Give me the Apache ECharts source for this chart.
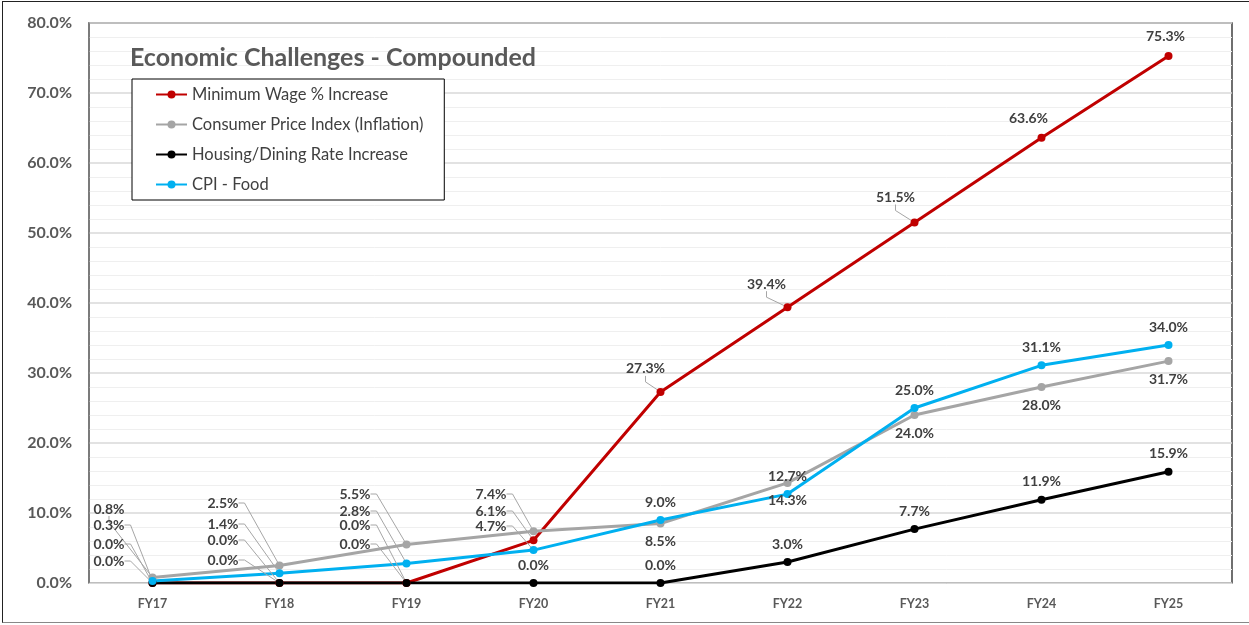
<!DOCTYPE html>
<html>
<head>
<meta charset="utf-8">
<title>Economic Challenges - Compounded</title>
<script src="https://cdn.jsdelivr.net/npm/echarts@6/dist/echarts.min.js"></script>
<style>
    html, body { margin: 0; padding: 0; background: #fff; }
    #main { position: absolute; left: 0; top: 0; width: 1249px; height: 625px; }
    .frame { position: absolute; left: 2px; top: 1px; width: 1262px; height: 620px;
             border: 1px solid #222; border-bottom-color: #888; pointer-events: none; }
</style>
</head>
<body>
<div id="main"></div>
<div class="frame"></div>
<script>
// 数据
var categories = ['FY17', 'FY18', 'FY19', 'FY20', 'FY21', 'FY22', 'FY23', 'FY24', 'FY25'];
var minWage = [0.0, 0.0, 0.0, 6.1, 27.3, 39.4, 51.5, 63.6, 75.3];
var cpi = [0.8, 2.5, 5.5, 7.4, 8.5, 14.3, 24.0, 28.0, 31.7];
var housing = [0.0, 0.0, 0.0, 0.0, 0.0, 3.0, 7.7, 11.9, 15.9];
var cpiFood = [0.3, 1.4, 2.8, 4.7, 9.0, 12.7, 25.0, 31.1, 34.0];
var yTicks = [0, 10, 20, 30, 40, 50, 60, 70, 80];

var FONT = 'Lato, "Open Sans", sans-serif';

// 左下角标签堆叠 (series: 0 wage, 1 cpi, 2 housing, 3 food)
var clusters = {
    0: { dx: -28, dy: [-39, -74, -22, -58] },
    1: { dx: -41, dy: [-43, -80, -23, -59] },
    2: { dx: -36, dy: [-58, -89, -39, -72] },
    3: { dx: -27, dy: [-72, -89, null, -57] }
};
// 最低工资标签偏移 (相对于点)
var wageShift = { 4: [-15, -23], 5: [-21, -23], 6: [-19, -25], 7: [-13, -19], 8: [-3, -19] };
var wageLeader = { 4: 1, 5: 1, 6: 1 };

var chart = echarts.init(document.getElementById('main'));

function labelPos(p) {
    var cx = p.rect.x + p.rect.width / 2;
    var cy = p.rect.y + p.rect.height / 2;
    var c = clusters[p.dataIndex];
    if (c && c.dy[p.seriesIndex] != null) {
        var base = chart.convertToPixel({ yAxisIndex: 0 }, 0);
        return { x: cx + c.dx, y: base + c.dy[p.seriesIndex], align: 'right', verticalAlign: 'middle' };
    }
    if (p.seriesIndex === 0 && wageShift[p.dataIndex]) {
        var s = wageShift[p.dataIndex];
        return { x: cx + s[0], y: cy + s[1], align: 'center', verticalAlign: 'middle' };
    }
    return {};
}

function buildData(values, seriesIndex) {
    return values.map(function (v, i) {
        var lead = (clusters[i] && clusters[i].dy[seriesIndex] != null) ||
                   (seriesIndex === 0 && wageLeader[i]);
        return { value: v, labelLine: { show: !!lead } };
    });
}

function makeSeries(name, values, idx, color, pos) {
    return {
        name: name,
        type: 'line',
        data: buildData(values, idx),
        symbol: 'circle',
        symbolSize: 8,
        lineStyle: { color: color, width: 3 },
        itemStyle: { color: color },
        label: {
            show: true,
            position: pos,
            distance: 7,
            formatter: function (p) { return p.value.toFixed(1) + '%'; },
            fontFamily: FONT,
            fontWeight: 'bold',
            fontSize: 14,
            color: '#404040'
        },
        labelLine: {
            show: false,
            length2: 6,
            lineStyle: { color: '#a6a6a6', width: 1 }
        },
        labelLayout: labelPos
    };
}

var option = {
    animation: false,
    backgroundColor: '#fff',
    title: {
        text: 'Economic Challenges - Compounded',
        left: 125,
        top: 40,
        textStyle: { fontFamily: FONT, fontWeight: 'bold', fontSize: 25, color: '#595959' }
    },
    legend: {
        orient: 'vertical',
        left: 132,
        top: 79,
        padding: [6, 21, 6, 23],
        itemGap: 11,
        itemWidth: 31,
        itemHeight: 10,
        backgroundColor: '#fff',
        borderColor: '#000',
        borderWidth: 1,
        textStyle: { fontFamily: FONT, fontSize: 16.5, color: '#404040', lineHeight: 19 },
        data: ['Minimum Wage % Increase', 'Consumer Price Index (Inflation)',
               'Housing/Dining Rate Increase', 'CPI - Food']
    },
    grid: {
        left: 89, right: 17, top: 23, bottom: 42,
        show: true,
        borderColor: '#404040',
        borderWidth: 1.5,
        backgroundColor: 'transparent'
    },
    xAxis: {
        type: 'category',
        data: categories,
        boundaryGap: true,
        axisLine: { lineStyle: { color: '#d9d9d9' } },
        axisTick: { show: false },
        axisLabel: { fontFamily: FONT, fontWeight: 'bold', fontSize: 12.5, color: '#595959', margin: 14 }
    },
    yAxis: {
        type: 'value',
        min: yTicks[0],
        max: yTicks[yTicks.length - 1],
        interval: 10,
        axisLine: { show: true, lineStyle: { color: '#7f7f7f', width: 1.5 } },
        axisTick: { show: false },
        axisLabel: {
            fontFamily: FONT, fontWeight: 'bold', fontSize: 16, color: '#595959', margin: 17,
            formatter: function (v) { return v.toFixed(1) + '%'; }
        },
        splitLine: { lineStyle: { color: '#d9d9d9', width: 1.5 } },
        minorTick: { show: false, splitNumber: 5 },
        minorSplitLine: { show: true, lineStyle: { color: '#efefef', width: 1 } }
    },
    series: [
        makeSeries('Minimum Wage % Increase', minWage, 0, '#c00000', 'top'),
        makeSeries('Consumer Price Index (Inflation)', cpi, 1, '#a5a5a5', 'bottom'),
        makeSeries('Housing/Dining Rate Increase', housing, 2, '#000000', 'top'),
        makeSeries('CPI - Food', cpiFood, 3, '#00b0f0', 'top')
    ]
};

chart.setOption(option);
</script>
</body>
</html>
